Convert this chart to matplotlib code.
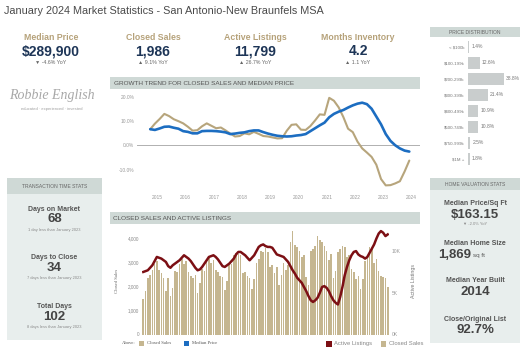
import numpy as np
import pandas as pd
import matplotlib
matplotlib.use('Agg')
import matplotlib.pyplot as plt
from matplotlib.patches import Rectangle

plt.rcParams['font.family'] = ['Liberation Sans', 'DejaVu Sans']

# ---- data ----
kpi_labels = ['Median Price', 'Closed Sales', 'Active Listings', 'Months Inventory']
kpi_values = ['$289,900', '1,986', '11,799', '4.2']
kpi_changes = ['\u25bc -4.6% YoY', '\u25b2 9.1% YoY', '\u25b2 26.7% YoY', '\u25b2 1.1 YoY']

price_bins = ['< $100k', '$100-199k', '$200-299k', '$300-399k', '$400-499k',
              '$500-749k', '$750-999k', '$1M +']
price_share = [1.4, 12.6, 38.8, 21.4, 10.9, 10.8, 2.5, 1.8]

# growth trend, every 2 months from Oct 2014 (YoY %)
growth_start = '2014-10-01'
sales_growth = [6.6, 8.9, 10.8, 12.9, 12.0, 10.7, 9.9, 9.0, 7.6, 6.0, 6.2, 7.8, 9.0, 8.0,
                7.0, 7.3, 6.1, 4.8, 3.6, 3.8, 4.9, 4.5, 5.5, 4.7, 3.8, 3.6, 3.2, 2.8,
                2.9, 6.0, 8.4, 8.6, 6.4, 6.3, 7.9, 10.2, 12.7, 12.5, 19.5, 18.3, 15.6, 11.6,
                6.8, 5.4, 1.5, -1.3, -3.0, -4.8, -8.0, -13.9, -16.5, -16.4, -15.7, -14.8, -10.8, -6.3]
price_growth = [6.6, 6.3, 6.9, 7.6, 7.7, 7.2, 6.8, 5.8, 5.5, 4.9, 4.9, 5.8, 5.9, 5.9,
                5.8, 5.6, 5.3, 4.6, 4.8, 5.1, 5.3, 5.8, 6.1, 6.1, 5.4, 4.8, 4.3, 3.9,
                3.7, 3.6, 3.7, 4.0, 4.2, 4.6, 5.8, 7.0, 8.2, 9.3, 11.5, 12.9, 13.8, 14.5,
                15.5, 16.4, 17.1, 17.5, 16.9, 15.0, 11.8, 8.6, 4.6, 1.8, 0.0, -1.3, -2.2, -2.6]
years = list(range(2015, 2025))

# monthly Jan 2015 - Jan 2024
closed_sales = [1500, 1800, 2350, 2500, 2700, 2950, 3050, 2700, 2550, 2350, 1800, 2350,
                1600, 1950, 2650, 2600, 2950, 3150, 2950, 3050, 2600, 2450, 2350, 2500,
                1750, 2150, 2750, 2650, 3100, 3200, 3000, 3100, 2700, 2600, 2450, 2400,
                1850, 2250, 2900, 2950, 3300, 3400, 3350, 3300, 2550, 2600, 2450, 2350,
                1900, 2300, 3000, 3150, 3500, 3450, 3600, 3450, 2800, 2900, 2550, 2800,
                2050, 2500, 3000, 2700, 2900, 3850, 4320, 3750, 3650, 3500, 3250, 3300,
                2400, 2050, 3500, 3550, 3700, 4100, 3950, 3850, 3700, 3500, 3100, 3350,
                2350, 2650, 3450, 3550, 3700, 3650, 3250, 3300, 2750, 2600, 2300, 2450,
                1900, 2300, 3050, 3200, 3650, 3600, 3000, 3150, 2650, 2450, 2400, 2350,
                1986]
active_listings = [7.5, 7.6, 7.7, 8.0, 8.3, 8.8, 9.3, 9.2, 9.1, 8.9, 8.7, 8.2,
                   8.0, 8.3, 8.5, 8.7, 8.9, 9.2, 9.5, 9.3, 9.1, 8.8, 8.4, 8.0,
                   7.7, 7.8, 8.1, 8.5, 8.9, 9.3, 9.4, 9.5, 9.3, 9.0, 8.6, 8.2,
                   8.1, 8.3, 8.5, 8.8, 9.1, 9.6, 9.9, 9.9, 9.7, 9.5, 9.2, 8.9,
                   9.2, 9.5, 10.0, 10.5, 10.7, 10.8, 10.6, 10.5, 10.5, 10.4, 10.0, 9.6,
                   9.5, 9.4, 9.3, 9.0, 8.7, 8.2, 7.7, 7.3, 6.8, 6.5, 6.2, 5.7,
                   5.2, 4.6, 4.1, 3.9, 4.1, 4.4, 5.0, 5.7, 5.8, 5.6, 5.2, 4.6,
                   4.1, 3.8, 3.6, 4.5, 5.7, 7.1, 8.1, 8.9, 9.5, 9.9, 10.0, 9.6,
                   9.4, 9.3, 9.1, 9.3, 9.8, 10.3, 10.8, 11.5, 12.1, 12.4, 12.2, 11.8,
                   12.0]

time_stats = [('Days on Market', '68', '1 day less than January 2023'),
              ('Days to Close', '34', '7 days less than January 2023'),
              ('Total Days', '102', '8 days less than January 2023')]

# ---- style ----
TAN = '#b7a57c'
BAR_TAN = '#c5b690'
BLUE = '#1c6dc1'
RED = '#7c0f14'
NAVY = '#1d3557'
GOLD = '#b6a27a'
PANEL = '#e8eeed'
HEAD = '#cfd9d6'

W, H = 525, 350
fig = plt.figure(figsize=(W / 100, H / 100), dpi=100)


def fx(x):
    return x / W


def fy(y):
    return 1 - y / H


def box(x0, y0, x1, y1, color):
    fig.patches.append(Rectangle((fx(x0), fy(y1)), (x1 - x0) / W, (y1 - y0) / H,
                                 transform=fig.transFigure, facecolor=color,
                                 edgecolor='none', zorder=0))


def txt(x, y, s, size, color='#555555', ha='center', **kw):
    fig.text(fx(x), fy(y), s, fontsize=size, color=color, ha=ha, va='center', **kw)


def axes_px(x0, y0, x1, y1):
    return fig.add_axes([fx(x0), fy(y1), (x1 - x0) / W, (y1 - y0) / H])


# title
txt(4, 11, 'January 2024 Market Statistics - San Antonio-New Braunfels MSA', 7.8,
    color='#4a4a4a', ha='left')

# KPIs
for cx, lab, val, chg in zip([51, 153, 255, 358], kpi_labels, kpi_values, kpi_changes):
    txt(cx, 38, lab, 6.3, color=GOLD, fontweight='bold')
    txt(cx, 51, val, 10, color=NAVY, fontweight='bold')
    txt(cx, 62.5, chg, 3.8, color='#666666')

# logo
txt(52, 96, 'Robbie English', 10, color='#a8a8a8', family='Liberation Serif',
    fontstyle='italic')
txt(52, 109, 'educated \u00b7 experienced \u00b7 invested', 3, color='#a0a0a0')

# price distribution
box(430, 27, 520, 37, HEAD)
txt(475, 32, 'PRICE DISTRIBUTION', 3.6, color='#666666')
axp = axes_px(468, 39, 520, 167)
axp.barh(range(len(price_bins)), price_share, height=0.73, color='#c9cdcd')
axp.set_ylim(len(price_bins) - 0.5, -0.5)
axp.set_xlim(0, 52 / 0.918)
axp.set_yticks(range(len(price_bins)))
axp.set_yticklabels(price_bins, fontsize=3.2, color='#777777')
axp.tick_params(axis='y', length=0, pad=2.5)
axp.set_xticks([])
for s in axp.spines.values():
    s.set_visible(False)
axp.patch.set_alpha(0)
for i, v in enumerate(price_share):
    axp.text(v + 2.5, i, f'{v}%', fontsize=3.6, color='#777777', va='center')

# growth trend panel
box(110, 77, 420, 89, HEAD)
txt(114, 83.5, 'GROWTH TREND FOR CLOSED SALES AND MEDIAN PRICE', 4.6, color='#555555',
    ha='left')
gdates = pd.date_range(growth_start, periods=len(sales_growth), freq='2MS')
gx = gdates.year + (gdates.month - 1) / 12
axg = axes_px(137, 92, 420, 190)
axg.plot(gx, sales_growth, color=TAN, lw=1.5, solid_capstyle='round')
axg.plot(gx, price_growth, color=BLUE, lw=1.9, solid_capstyle='round')
axg.axhline(0, color='#b0b0b0', lw=0.7, zorder=0)
axg.set_xlim(2015 - 20.33 / 28.33, 2015 + (420 - 156.67) / 28.33)
axg.set_ylim(-18.4, 21.9)
axg.set_yticks([20, 10, 0, -10])
axg.set_yticklabels(['20.0%', '10.0%', '0.0%', '-10.0%'], fontsize=3.5, color='#999999')
axg.set_xticks(years)
axg.set_xticklabels([str(y) for y in years], fontsize=3.5, color='#999999')
axg.tick_params(length=0, pad=2)
axg.tick_params(axis='x', pad=3.5)
for s in axg.spines.values():
    s.set_visible(False)
axg.patch.set_alpha(0)

# side panels
box(7, 178, 102, 340, PANEL)
box(7, 178, 102, 194, HEAD)
txt(54.5, 186, 'TRANSACTION TIME STATS', 3.6, color='#666666')
for (lab, val, note), y0 in zip(time_stats, [209, 257.5, 306]):
    txt(54.5, y0, lab, 5, color='#555555', fontweight='bold')
    txt(54.5, y0 + 10.5, val, 9.5, color='#444444', fontweight='bold')
    txt(54.5, y0 + 21, note, 2.9, color='#8a8a8a')

box(430, 178, 520, 343, PANEL)
box(430, 178, 520, 190, HEAD)
txt(475, 184, 'HOME VALUATION STATS', 3.6, color='#666666')
txt(475, 203.5, 'Median Price/Sq Ft', 5, color='#555555', fontweight='bold')
txt(475, 214.5, '$163.15', 9.5, color='#444444', fontweight='bold')
txt(475, 223.5, '\u25bc -2.0% YoY', 3, color='#8a8a8a')
txt(475, 243.5, 'Median Home Size', 5, color='#555555', fontweight='bold')
txt(471, 255, '1,869', 9.5, color='#444444', fontweight='bold', ha='right')
txt(473, 256, 'sq ft', 4.5, color='#555555', ha='left')
txt(475, 281, 'Median Year Built', 5, color='#555555', fontweight='bold')
txt(475, 292, '2014', 9.5, color='#444444', fontweight='bold')
txt(475, 319.5, 'Close/Original List', 5, color='#555555', fontweight='bold')
txt(475, 330, '92.7%', 9.5, color='#444444', fontweight='bold')

# closed sales + active listings
box(110, 212, 420, 224, HEAD)
txt(113, 218, 'CLOSED SALES AND ACTIVE LISTINGS', 4.6, color='#555555', ha='left')
axb = axes_px(141.7, 228, 389.3, 334.5)
idx = np.arange(len(closed_sales))
axb.bar(idx, closed_sales, width=0.7, color=BAR_TAN)
axb.set_xlim(-0.7, len(closed_sales) - 0.3)
axb.set_ylim(0, 4447)
axb.set_yticks([0, 1000, 2000, 3000, 4000])
axb.set_yticklabels(['0', '1,000', '2,000', '3,000', '4,000'], fontsize=3.3,
                    color='#888888')
axb.set_xticks([])
axb.tick_params(length=0, pad=2)
axb.set_ylabel('Closed Sales', fontsize=3.4, color='#666666', family='Liberation Serif',
               labelpad=6)
for s in axb.spines.values():
    s.set_visible(False)
axb.patch.set_alpha(0)
axr = axb.twinx()
axr.plot(idx, active_listings, color=RED, lw=1.8)
axr.set_ylim(0, 12.77)
axr.set_yticks([0, 5, 10])
axr.set_yticklabels(['0K', '5K', '10K'], fontsize=3.6, color='#999999')
axr.tick_params(length=0, pad=2)
axr.set_ylabel('Active Listings', fontsize=3.8, color='#777777', labelpad=7)
for s in axr.spines.values():
    s.set_visible(False)

# legend row
txt(122, 343.5, 'Above:', 3.4, color='#555555', ha='left', family='Liberation Serif')
box(139.3, 341, 144.3, 346, BAR_TAN)
txt(147, 343.5, 'Closed Sales', 3.4, color='#555555', ha='left', family='Liberation Serif')
box(184, 341, 189, 346, BLUE)
txt(192.3, 343.5, 'Median Price', 3.4, color='#555555', ha='left',
    family='Liberation Serif')
box(326, 340.5, 331.7, 346.5, RED)
txt(334, 343.5, 'Active Listings', 4.2, color='#888888', ha='left')
box(380.7, 340.5, 386.3, 346.5, BAR_TAN)
txt(389, 343.5, 'Closed Sales', 4.2, color='#888888', ha='left')

fig.savefig('out.png', dpi=100)
